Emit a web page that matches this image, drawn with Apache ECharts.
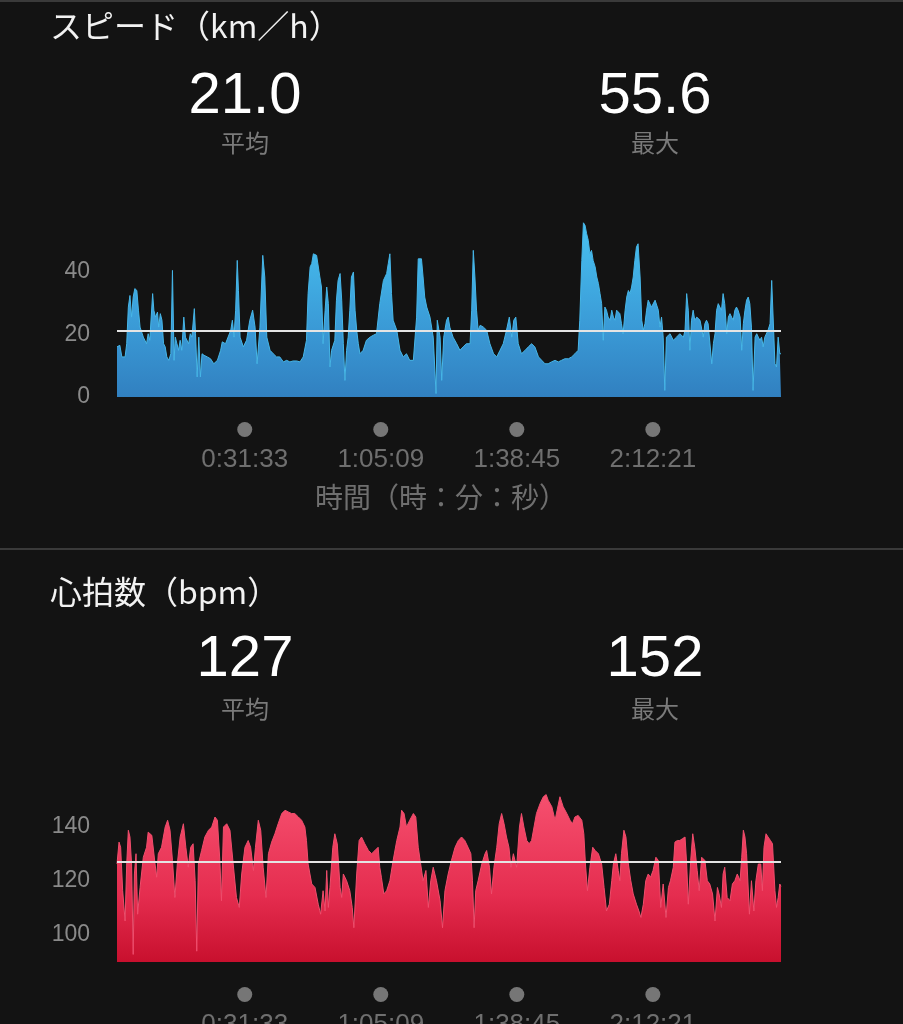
<!DOCTYPE html>
<html><head><meta charset="utf-8">
<script src="https://cdn.jsdelivr.net/npm/echarts@6/dist/echarts.min.js"></script>
<style>html,body{margin:0;padding:0;background:#131313;}#c{width:903px;height:1024px;}</style>
</head><body><div id="c"></div>
<script>
// time (minutes) of the four x tick marks and their labels
const tickMinutes = [31.55, 65.15, 98.75, 132.35];
const tickLabels = ['0:31:33', '1:05:09', '1:38:45', '2:12:21'];
const totalMinutes = 164;

const speedTitle = 'スピード（km／h）';
const speedAvg = 21.0, speedMax = 55.6;
const heartTitle = '心拍数（bpm）';
const heartAvg = 127, heartMax = 152;
const axisTitle = '時間（時：分：秒）';
const avgLabel = '平均', maxLabel = '最大';

// [minute, km/h]
const speedPoints = [[0,16.0],[0.7,16.5],[1.2,12.8],[2.0,12.8],[2.4,17.0],[2.8,28.7],[3.2,32.4],[3.6,25.5],[4.0,31.9],[4.4,34.6],[4.9,34.0],[5.3,27.7],[5.7,22.3],[6.5,19.1],[7.3,17.0],[7.7,20.2],[8.1,18.1],[8.8,33.0],[9.1,27.7],[9.5,25.5],[10.0,27.1],[10.3,22.3],[10.7,26.6],[11.1,24.5],[11.5,17.0],[11.9,16.0],[12.3,12.8],[12.8,11.7],[13.3,13.8],[13.7,40.4],[14.1,11.7],[14.4,19.1],[14.8,17.0],[15.2,14.9],[15.6,18.1],[16.0,14.9],[16.5,25.5],[16.9,19.1],[17.3,19.1],[17.7,17.0],[18.1,20.2],[18.5,19.1],[19.1,28.2],[19.4,20.2],[19.8,6.4],[20.2,19.1],[20.6,6.4],[21.0,13.8],[21.5,13.3],[22.3,12.8],[23.1,12.2],[23.9,10.6],[24.8,11.7],[25.6,14.9],[26.0,17.6],[26.8,17.0],[27.2,17.0],[28.1,21.3],[28.5,24.5],[28.9,19.1],[29.3,27.7],[29.7,43.6],[30.0,34.0],[30.4,19.1],[31.2,16.0],[32.0,18.1],[32.8,24.5],[33.5,27.7],[34.1,22.3],[34.6,10.6],[35.3,22.3],[36.0,45.2],[36.5,38.3],[37.0,19.1],[37.8,14.9],[38.6,13.8],[39.4,12.8],[40.2,12.8],[41.1,11.2],[41.9,11.7],[42.7,11.2],[43.5,11.5],[44.4,11.5],[45.2,11.2],[46.0,12.8],[46.8,18.1],[47.2,33.0],[47.7,41.5],[48.1,42.6],[48.5,45.7],[49.3,45.2],[49.7,44.7],[50.1,38.3],[50.5,35.1],[50.9,17.0],[51.4,27.7],[51.8,35.1],[52.2,29.8],[52.6,9.6],[53.0,14.9],[53.4,14.9],[53.8,18.1],[54.2,30.9],[54.6,37.2],[55.1,39.4],[55.5,30.9],[55.9,17.0],[56.3,5.3],[56.7,14.9],[57.1,19.1],[57.5,27.7],[57.9,38.3],[58.4,39.9],[58.8,27.7],[59.2,21.3],[59.6,17.0],[60.0,13.8],[60.8,14.9],[61.6,18.1],[62.5,19.1],[63.3,19.7],[64.1,20.2],[64.9,29.8],[65.8,37.2],[66.6,39.4],[67.0,42.6],[67.4,45.7],[67.8,33.0],[68.2,24.5],[69.1,21.3],[69.9,14.9],[70.7,12.8],[71.5,13.8],[72.3,11.7],[73.2,11.7],[74.0,25.5],[74.4,44.1],[74.8,43.6],[75.2,44.1],[75.6,38.3],[76.0,31.9],[76.5,28.7],[77.3,25.5],[78.1,19.1],[78.8,1.1],[79.1,24.5],[79.8,19.1],[80.2,5.3],[80.7,19.1],[81.4,24.5],[81.8,25.5],[82.2,22.3],[83.0,19.1],[83.9,17.0],[84.7,14.9],[85.5,16.0],[86.3,17.0],[87.2,17.0],[87.6,27.7],[88.0,46.8],[88.4,38.3],[88.8,27.7],[89.2,21.3],[89.7,22.9],[90.5,22.3],[91.3,21.3],[92.1,17.0],[93.0,13.8],[93.8,12.8],[94.6,14.9],[95.4,17.0],[96.2,21.3],[96.9,25.5],[97.5,19.1],[98.0,24.5],[98.5,25.5],[99.1,17.0],[99.9,13.8],[100.8,14.9],[101.6,16.0],[102.4,17.0],[103.2,16.0],[104.1,12.8],[104.9,11.7],[105.7,10.6],[106.5,10.6],[107.3,11.2],[108.2,11.7],[109.0,11.2],[109.8,11.7],[110.6,12.2],[111.5,12.2],[112.3,12.8],[113.1,13.8],[113.9,14.9],[114.3,24.5],[114.8,43.6],[115.2,55.6],[115.6,54.8],[116.0,52.1],[116.4,50.0],[116.8,45.7],[117.2,46.8],[117.6,43.6],[118.1,41.5],[118.5,38.3],[118.9,36.2],[119.3,33.0],[119.7,29.8],[120.1,18.1],[120.5,28.7],[120.9,27.7],[121.3,25.5],[121.8,24.5],[122.2,27.7],[122.6,25.5],[123.0,24.5],[123.4,27.7],[123.8,27.7],[124.2,26.6],[124.6,23.4],[125.0,20.2],[125.5,27.7],[125.9,31.9],[126.3,34.0],[126.7,33.0],[127.1,35.1],[127.5,38.3],[127.9,43.6],[128.3,47.9],[128.7,48.9],[129.2,38.3],[129.6,24.5],[130.0,21.3],[130.4,23.4],[130.8,27.7],[131.2,30.9],[131.6,30.9],[132.0,28.7],[132.4,28.7],[132.9,30.9],[133.3,30.9],[133.7,27.7],[134.1,22.3],[134.5,25.5],[134.9,19.1],[135.3,2.1],[135.7,19.1],[136.6,20.2],[137.4,18.1],[138.2,19.1],[139.0,20.2],[139.9,19.1],[140.3,21.3],[140.7,33.0],[141.1,27.7],[141.5,14.9],[141.9,24.5],[142.3,27.7],[142.7,24.5],[143.2,25.5],[144.0,24.5],[144.8,19.1],[145.2,23.4],[145.6,24.5],[146.0,23.4],[146.4,23.4],[146.9,10.6],[147.3,17.0],[147.7,20.2],[148.1,27.7],[148.5,29.8],[148.9,28.7],[149.3,27.7],[149.7,33.0],[150.1,29.8],[150.6,20.2],[151.0,25.5],[151.4,26.6],[151.8,25.5],[152.2,24.5],[152.6,27.7],[153.0,28.7],[153.4,27.7],[153.9,25.5],[154.3,14.9],[154.7,23.4],[155.1,27.7],[155.5,30.9],[155.9,31.9],[156.3,29.8],[156.7,22.3],[157.1,2.1],[157.6,19.1],[158.0,20.2],[158.4,19.1],[158.8,18.1],[159.2,19.1],[159.6,16.0],[160.0,19.1],[160.4,19.1],[160.8,21.3],[161.3,23.4],[161.7,37.2],[162.1,36.7],[162.5,10.6],[162.9,9.6],[163.3,19.1],[163.7,13.8],[164.0,13.8]];

// [minute, bpm]
const heartPoints = [[0,126.3],[0.5,134.4],[0.9,132.5],[1.4,116.4],[2.0,105.2],[2.4,126.3],[2.8,138.8],[3.2,136.3],[3.6,126.3],[4.0,92.8],[4.3,122.6],[4.7,130.1],[5.1,107.7],[5.7,117.6],[6.5,128.8],[7.3,132.5],[7.7,138.1],[8.6,136.9],[9.4,126.3],[9.8,121.4],[10.2,130.1],[11.0,132.5],[11.9,140.0],[12.5,142.5],[13.1,138.8],[13.7,127.6],[14.3,113.9],[14.9,126.3],[15.6,136.3],[16.4,141.2],[17.0,132.5],[17.6,125.1],[18.2,132.5],[18.8,133.8],[19.3,120.1],[19.7,94.0],[20.1,126.3],[20.9,131.3],[21.7,136.3],[22.6,138.8],[23.4,140.0],[24.2,143.7],[24.8,142.5],[25.4,127.6],[25.8,112.7],[26.3,140.0],[27.1,141.2],[27.9,138.8],[28.7,126.3],[29.5,113.9],[30.2,110.2],[30.8,122.6],[31.6,132.5],[32.4,135.0],[33.0,132.5],[33.7,123.9],[34.2,132.5],[34.9,142.5],[35.5,138.8],[36.1,125.1],[36.8,113.9],[37.4,130.1],[38.2,134.4],[39.0,137.5],[39.8,141.2],[40.7,145.0],[41.5,146.2],[42.3,145.6],[43.1,145.0],[43.9,145.0],[44.8,143.7],[45.6,142.5],[46.4,140.0],[46.8,135.0],[47.2,126.3],[48.1,118.9],[48.9,117.6],[49.7,111.4],[50.3,107.7],[50.9,116.4],[51.4,108.9],[51.8,123.9],[52.2,110.2],[52.6,117.6],[53.3,132.5],[53.8,137.5],[54.4,133.8],[55.1,117.6],[55.5,113.9],[55.9,122.6],[56.7,120.1],[57.5,116.4],[58.1,110.2],[58.5,102.7],[59.2,122.6],[59.8,135.0],[60.4,136.3],[61.2,133.8],[62.1,131.3],[62.9,130.1],[63.7,131.3],[64.5,132.5],[64.9,125.1],[65.3,121.4],[65.9,115.2],[66.6,116.4],[67.4,120.1],[68.2,127.6],[69.1,135.0],[69.9,140.0],[70.3,146.2],[70.9,145.0],[71.5,140.0],[72.3,142.5],[73.2,145.0],[73.8,143.7],[74.4,132.5],[75.0,126.3],[75.6,120.1],[76.3,123.9],[76.9,110.2],[77.5,120.1],[78.1,125.1],[78.9,120.1],[79.8,112.7],[80.4,102.7],[81.0,116.4],[81.8,122.6],[82.6,127.6],[83.5,132.5],[84.3,135.0],[85.1,136.3],[85.9,135.0],[86.7,132.5],[87.4,130.1],[87.8,120.1],[88.2,102.7],[88.6,116.4],[89.2,120.1],[90.1,126.3],[90.9,130.1],[91.3,131.3],[92.0,125.1],[92.5,115.2],[93.1,125.1],[93.8,132.5],[94.4,141.2],[95.0,145.0],[95.6,141.2],[96.2,136.3],[96.8,132.5],[97.3,125.1],[97.9,130.1],[98.7,125.1],[99.4,140.0],[99.9,145.0],[100.5,140.0],[101.2,135.0],[101.8,133.8],[102.4,135.0],[103.0,140.0],[103.6,145.0],[104.5,148.7],[105.3,151.2],[106.0,152.0],[106.5,149.9],[107.4,147.5],[108.2,142.5],[108.7,146.2],[109.4,151.2],[110.2,147.5],[111.1,145.0],[111.9,142.5],[112.5,141.2],[113.1,143.7],[113.9,144.3],[114.8,142.5],[115.3,137.5],[115.7,126.3],[116.2,116.4],[116.8,125.1],[117.5,132.5],[118.1,131.3],[118.9,130.1],[119.7,126.3],[120.3,117.6],[120.9,108.9],[121.6,111.4],[122.2,120.1],[122.6,126.3],[123.2,130.1],[123.8,123.9],[124.2,120.1],[124.6,130.1],[125.2,138.8],[125.7,136.3],[126.3,126.3],[126.9,120.1],[127.5,115.2],[128.3,111.4],[128.9,108.9],[129.4,106.5],[130.0,111.4],[130.6,120.1],[131.2,122.6],[131.8,121.4],[132.4,123.9],[133.1,128.8],[133.7,127.6],[134.3,110.2],[134.9,118.9],[135.6,106.5],[136.2,117.6],[136.7,120.1],[137.4,125.1],[137.8,134.4],[138.4,135.0],[139.0,135.0],[139.7,135.7],[140.3,136.3],[140.7,126.3],[141.1,111.4],[141.7,127.6],[142.2,137.5],[142.7,132.5],[143.3,123.9],[143.8,116.4],[144.4,128.8],[145.2,127.6],[145.8,120.1],[146.4,118.9],[147.1,115.2],[147.7,105.2],[148.3,117.6],[148.7,115.2],[149.3,110.2],[149.7,122.6],[150.1,125.1],[150.7,113.9],[151.4,112.7],[152.0,118.9],[152.6,120.1],[153.2,122.6],[153.9,120.1],[154.3,128.8],[154.7,138.8],[155.1,136.3],[155.5,130.1],[156.2,107.7],[156.7,120.1],[157.3,108.9],[157.8,120.1],[158.4,126.3],[159.0,126.3],[159.4,116.4],[159.8,132.5],[160.3,137.5],[160.8,136.3],[161.4,135.0],[161.9,133.8],[162.5,116.4],[162.9,110.2],[163.3,113.9],[163.7,118.9],[164.0,118.0]];

const speedTicks = [0, 20, 40];
const heartTicks = [100, 120, 140];

const chart = echarts.init(document.getElementById('c'), null, {renderer: 'canvas'});
const NUM_FONT = '"Liberation Sans", Roboto, sans-serif';
const CJK_FONT = '"Noto Sans CJK JP", "Noto Sans", sans-serif';

function xAxisCfg(gridIndex) {
  return {
    type: 'value', gridIndex, min: 0, max: totalMinutes,
    axisLine: {show: false}, axisTick: {show: false}, splitLine: {show: false},
    axisLabel: {
      show: true, customValues: tickMinutes, margin: 25,
      formatter: function (v) {
        let best = 0;
        tickMinutes.forEach((t, i) => { if (Math.abs(t - v) < Math.abs(tickMinutes[best] - v)) best = i; });
        return '{d| }\n{t|' + tickLabels[best] + '}';
      },
      rich: {
        d: {width: 15, height: 15, lineHeight: 15, borderRadius: 8, backgroundColor: '#767676'},
        t: {fontSize: 26, lineHeight: 46, color: '#6f6f6f', fontFamily: NUM_FONT}
      }
    }
  };
}
function yAxisCfg(gridIndex, min, max, ticks) {
  return {
    type: 'value', gridIndex, min, max, interval: 10,
    axisLine: {show: false}, axisTick: {show: false}, splitLine: {show: false},
    axisLabel: {
      margin: 27, color: '#8a8a8a', fontSize: 23, fontFamily: NUM_FONT,
      formatter: v => ticks.indexOf(v) >= 0 ? String(v) : ''
    }
  };
}
function text(x, y, str, size, color, font, align) {
  return {type: 'text', x, y, silent: true,
    style: {text: str, fill: color, fontSize: size, fontFamily: font, textAlign: align || 'center', textVerticalAlign: 'middle'}};
}

const option = {
  backgroundColor: '#131313',
  animation: false,
  grid: [
    {left: 117, right: 122, top: 209, height: 188, outerBoundsMode: 'none', containLabel: false},
    {left: 117, right: 122, top: 773, height: 189, outerBoundsMode: 'none', containLabel: false}
  ],
  xAxis: [xAxisCfg(0), xAxisCfg(1)],
  yAxis: [yAxisCfg(0, 0, 60, speedTicks), yAxisCfg(1, 90, 160, heartTicks)],
  series: [
    {
      type: 'line', xAxisIndex: 0, yAxisIndex: 0, data: speedPoints, symbol: 'none',
      lineStyle: {width: 1, color: '#46b6e8'},
      areaStyle: {opacity: 1, color: new echarts.graphic.LinearGradient(0, 0, 0, 1, [
        {offset: 0, color: '#48c2f2'}, {offset: 0.6, color: '#3a9ad6'}, {offset: 1, color: '#3180c0'}])},
      markLine: {silent: true, symbol: 'none', label: {show: false},
        lineStyle: {color: '#e4e4e4', width: 2, type: 'solid'}, data: [{yAxis: speedAvg}]}
    },
    {
      type: 'line', xAxisIndex: 1, yAxisIndex: 1, data: heartPoints, symbol: 'none',
      lineStyle: {width: 1, color: '#f04d6c'},
      areaStyle: {opacity: 1, color: new echarts.graphic.LinearGradient(0, 0, 0, 1, [
        {offset: 0, color: '#f6506f'}, {offset: 0.6, color: '#e52d4f'}, {offset: 1, color: '#c8102e'}])},
      markLine: {silent: true, symbol: 'none', label: {show: false},
        lineStyle: {color: '#e4e4e4', width: 2, type: 'solid'}, data: [{yAxis: heartAvg}]}
    }
  ],
  graphic: [
    {type: 'line', silent: true, shape: {x1: 0, y1: 1, x2: 903, y2: 1}, style: {stroke: '#3a3a3a', lineWidth: 2}},
    {type: 'line', silent: true, shape: {x1: 0, y1: 549, x2: 903, y2: 549}, style: {stroke: '#3a3a3a', lineWidth: 2}},
    text(50, 26, speedTitle, 32, '#f2f2f2', CJK_FONT, 'left'),
    text(245, 97, speedAvg.toFixed(1), 58, '#ffffff', NUM_FONT),
    text(655, 97, speedMax.toFixed(1), 58, '#ffffff', NUM_FONT),
    text(245, 143, avgLabel, 24, '#7a7a7a', CJK_FONT),
    text(655, 143, maxLabel, 24, '#7a7a7a', CJK_FONT),
    text(441, 497, axisTitle, 28, '#6f6f6f', CJK_FONT),
    text(50, 592, heartTitle, 32, '#f2f2f2', CJK_FONT, 'left'),
    text(245, 660, String(heartAvg), 58, '#ffffff', NUM_FONT),
    text(655, 660, String(heartMax), 58, '#ffffff', NUM_FONT),
    text(245, 709, avgLabel, 24, '#7a7a7a', CJK_FONT),
    text(655, 709, maxLabel, 24, '#7a7a7a', CJK_FONT)
  ]
};
chart.setOption(option);
</script>
</body></html>
